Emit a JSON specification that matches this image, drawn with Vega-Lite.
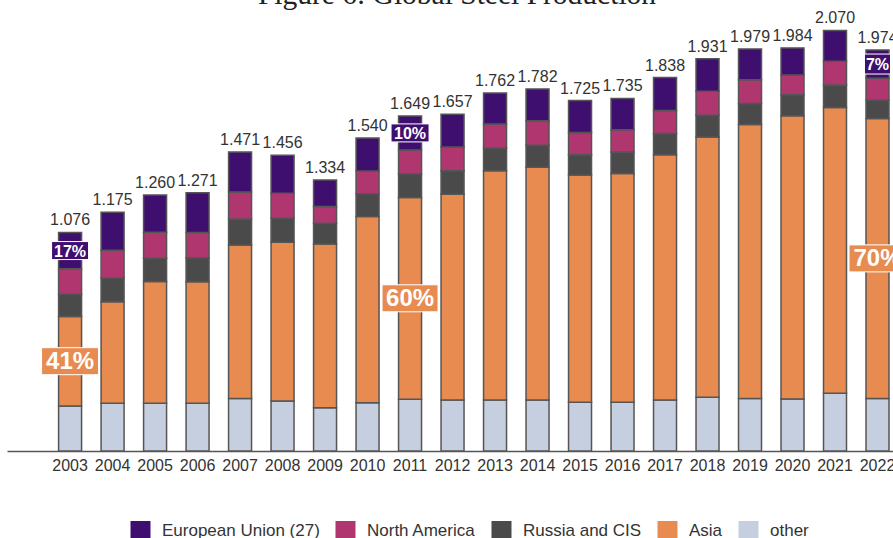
{
  "$schema": "https://vega.github.io/schema/vega-lite/v6.json",
  "width": 886,
  "height": 447,
  "autosize": {"type": "none"},
  "padding": {"left": 7, "top": 4, "right": 0, "bottom": 87},
  "background": "white",
  "title": {
    "text": "Figure 6: Global Steel Production",
    "font": "Liberation Serif",
    "fontSize": 29.5,
    "fontWeight": "normal",
    "color": "#222222",
    "anchor": "middle",
    "baseline": "alphabetic",
    "offset": -29,
    "dx": 7
  },
  "data": {
    "values": [
      {"year":"2003","series":"other","value":222},{"year":"2003","series":"Asia","value":440,"label":"41%"},{"year":"2003","series":"Russia and CIS","value":110},{"year":"2003","series":"North America","value":125},{"year":"2003","series":"European Union (27)","value":179,"label":"17%"},
      {"year":"2004","series":"other","value":235},{"year":"2004","series":"Asia","value":499},{"year":"2004","series":"Russia and CIS","value":118},{"year":"2004","series":"North America","value":136},{"year":"2004","series":"European Union (27)","value":187},
      {"year":"2005","series":"other","value":235},{"year":"2005","series":"Asia","value":599},{"year":"2005","series":"Russia and CIS","value":115},{"year":"2005","series":"North America","value":128},{"year":"2005","series":"European Union (27)","value":183},
      {"year":"2006","series":"other","value":235},{"year":"2006","series":"Asia","value":598},{"year":"2006","series":"Russia and CIS","value":118},{"year":"2006","series":"North America","value":125},{"year":"2006","series":"European Union (27)","value":195},
      {"year":"2007","series":"other","value":259},{"year":"2007","series":"Asia","value":755},{"year":"2007","series":"Russia and CIS","value":128},{"year":"2007","series":"North America","value":133},{"year":"2007","series":"European Union (27)","value":196},
      {"year":"2008","series":"other","value":246},{"year":"2008","series":"Asia","value":782},{"year":"2008","series":"Russia and CIS","value":118},{"year":"2008","series":"North America","value":123},{"year":"2008","series":"European Union (27)","value":187},
      {"year":"2009","series":"other","value":213},{"year":"2009","series":"Asia","value":806},{"year":"2009","series":"Russia and CIS","value":102},{"year":"2009","series":"North America","value":82},{"year":"2009","series":"European Union (27)","value":131},
      {"year":"2010","series":"other","value":238},{"year":"2010","series":"Asia","value":916},{"year":"2010","series":"Russia and CIS","value":112},{"year":"2010","series":"North America","value":112},{"year":"2010","series":"European Union (27)","value":162},
      {"year":"2011","series":"other","value":255},{"year":"2011","series":"Asia","value":993,"label":"60%"},{"year":"2011","series":"Russia and CIS","value":117},{"year":"2011","series":"North America","value":117},{"year":"2011","series":"European Union (27)","value":167,"label":"10%"},
      {"year":"2012","series":"other","value":251},{"year":"2012","series":"Asia","value":1013},{"year":"2012","series":"Russia and CIS","value":115},{"year":"2012","series":"North America","value":117},{"year":"2012","series":"European Union (27)","value":161},
      {"year":"2013","series":"other","value":251},{"year":"2013","series":"Asia","value":1128},{"year":"2013","series":"Russia and CIS","value":112},{"year":"2013","series":"North America","value":118},{"year":"2013","series":"European Union (27)","value":153},
      {"year":"2014","series":"other","value":251},{"year":"2014","series":"Asia","value":1146},{"year":"2014","series":"Russia and CIS","value":108},{"year":"2014","series":"North America","value":120},{"year":"2014","series":"European Union (27)","value":157},
      {"year":"2015","series":"other","value":240},{"year":"2015","series":"Asia","value":1118},{"year":"2015","series":"Russia and CIS","value":100},{"year":"2015","series":"North America","value":110},{"year":"2015","series":"European Union (27)","value":157},
      {"year":"2016","series":"other","value":240},{"year":"2016","series":"Asia","value":1126},{"year":"2016","series":"Russia and CIS","value":105},{"year":"2016","series":"North America","value":110},{"year":"2016","series":"European Union (27)","value":154},
      {"year":"2017","series":"other","value":251},{"year":"2017","series":"Asia","value":1207},{"year":"2017","series":"Russia and CIS","value":105},{"year":"2017","series":"North America","value":113},{"year":"2017","series":"European Union (27)","value":162},
      {"year":"2018","series":"other","value":264},{"year":"2018","series":"Asia","value":1281},{"year":"2018","series":"Russia and CIS","value":107},{"year":"2018","series":"North America","value":118},{"year":"2018","series":"European Union (27)","value":161},
      {"year":"2019","series":"other","value":259},{"year":"2019","series":"Asia","value":1348},{"year":"2019","series":"Russia and CIS","value":103},{"year":"2019","series":"North America","value":117},{"year":"2019","series":"European Union (27)","value":152},
      {"year":"2020","series":"other","value":256},{"year":"2020","series":"Asia","value":1394},{"year":"2020","series":"Russia and CIS","value":103},{"year":"2020","series":"North America","value":97},{"year":"2020","series":"European Union (27)","value":134},
      {"year":"2021","series":"other","value":284},{"year":"2021","series":"Asia","value":1407},{"year":"2021","series":"Russia and CIS","value":110},{"year":"2021","series":"North America","value":117},{"year":"2021","series":"European Union (27)","value":152},
      {"year":"2022","series":"other","value":259},{"year":"2022","series":"Asia","value":1378,"label":"70%"},{"year":"2022","series":"Russia and CIS","value":90},{"year":"2022","series":"North America","value":108},{"year":"2022","series":"European Union (27)","value":139,"label":"7%"}
    ]
  },
  "transform": [
    {"stack": "value", "groupby": ["year"], "as": ["v0", "v1"]}
  ],
  "encoding": {
    "x": {
      "field": "year",
      "type": "ordinal",
      "title": null,
      "scale": {"paddingInner": 0.459, "paddingOuter": 0.654, "align": 0.928, "round": false},
      "axis": {
        "labelAngle": 0,
        "labelFontSize": 16,
        "labelFont": "Liberation Sans",
        "labelColor": "#333333",
        "labelPadding": 6,
        "ticks": false,
        "domainColor": "#555555",
        "domainWidth": 1.5,
        "grid": false
      }
    }
  },
  "layer": [
    {
      "mark": {"type": "bar", "stroke": "#555555", "strokeWidth": 1.5},
      "encoding": {
        "y": {"field": "v0", "type": "quantitative", "scale": {"domain": [0, 2200], "nice": false}, "axis": null},
        "y2": {"field": "v1"},
        "color": {
          "field": "series",
          "type": "nominal",
          "scale": {
            "domain": ["European Union (27)", "North America", "Russia and CIS", "Asia", "other"],
            "range": ["#3f0f70", "#b0366f", "#4a4a4a", "#e88b50", "#c6cfdf"]
          },
          "legend": {
            "title": null,
            "orient": "none",
            "legendX": 122,
            "legendY": 515,
            "direction": "horizontal",
            "symbolType": "square",
            "symbolSize": 462,
            "symbolStrokeColor": "#555555",
            "symbolStrokeWidth": 1.5,
            "symbolOpacity": 1,
            "labelFontSize": 17,
            "labelFont": "Liberation Sans",
            "labelColor": "#333333",
            "labelOffset": 10,
            "columnPadding": 11
          }
        }
      }
    },
    {
      "transform": [{"aggregate": [{"op": "sum", "field": "value", "as": "total"}], "groupby": ["year"]}],
      "mark": {"type": "text", "baseline": "alphabetic", "dy": -7, "fontSize": 16, "font": "Liberation Sans", "color": "#333333"},
      "encoding": {
        "y": {"field": "total", "type": "quantitative"},
        "text": {"field": "total", "type": "quantitative", "format": ",d"}
      }
    },
    {
      "transform": [
        {"filter": "isValid(datum.label)"},
        {"fold": ["v0", "v1"], "as": ["edge", "pos"]},
        {"aggregate": [{"op": "mean", "field": "pos", "as": "mid"}], "groupby": ["year", "series", "label"]}
      ],
      "layer": [
        {
          "mark": {"type": "point", "filled": true, "size": 4, "opacity": 1, "stroke": "white", "strokeWidth": 1},
          "encoding": {
            "y": {"field": "mid", "type": "quantitative"},
            "color": {"field": "series", "type": "nominal"},
            "shape": {
              "field": "label",
              "type": "nominal",
              "legend": null,
              "scale": {
                "domain": ["17%", "10%", "7%", "41%", "60%", "70%"],
                "range": [
                  "M-18.5,-9H18.5V9H-18.5Z",
                  "M-19,-9H19V9H-19Z",
                  "M-13,-10H13V10H-13Z",
                  "M-28.5,-13.5H28.5V13.5H-28.5Z",
                  "M-28,-13.5H28V13.5H-28Z",
                  "M-28.5,-13.5H28.5V13.5H-28.5Z"
                ]
              }
            }
          }
        },
        {
          "transform": [{"filter": "datum.series === 'European Union (27)'"}],
          "mark": {"type": "text", "fontSize": 16, "fontWeight": "bold", "font": "Liberation Sans", "color": "white", "baseline": "middle", "dy": 1},
          "encoding": {
            "y": {"field": "mid", "type": "quantitative"},
            "text": {"field": "label"}
          }
        },
        {
          "transform": [{"filter": "datum.series === 'Asia'"}],
          "mark": {"type": "text", "fontSize": 24, "fontWeight": "bold", "font": "Liberation Sans", "color": "white", "baseline": "middle", "dy": 1},
          "encoding": {
            "y": {"field": "mid", "type": "quantitative"},
            "text": {"field": "label"}
          }
        }
      ]
    }
  ],
  "config": {
    "view": {"stroke": null},
    "locale": {"number": {"decimal": ",", "thousands": ".", "grouping": [3], "currency": ["", " €"]}}
  }
}
